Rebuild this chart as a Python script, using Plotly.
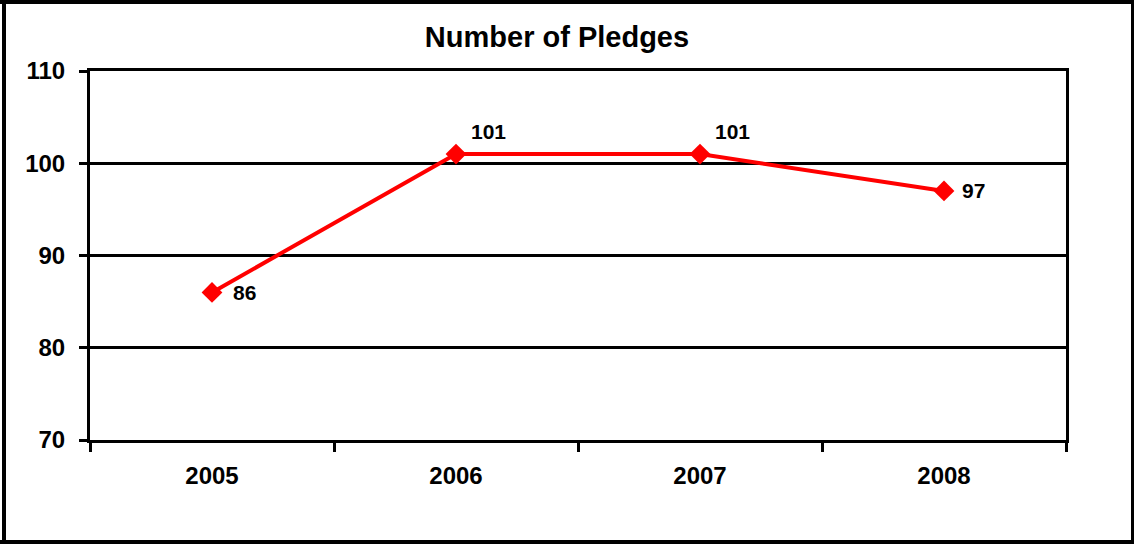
import plotly.graph_objects as go

# Pledge counts by year
years = ["2005", "2006", "2007", "2008"]
pledges = [86, 101, 101, 97]
y_ticks = [70, 80, 90, 100, 110]

FONT = "Liberation Sans, Arial, sans-serif"
RED = "#ff0000"

fig = go.Figure()
fig.add_trace(go.Scatter(
    x=years,
    y=pledges,
    mode="lines+markers",
    line=dict(color=RED, width=4),
    marker=dict(symbol="diamond", size=16, color=RED),
    hoverinfo="x+y",
    showlegend=False,
))

# Value labels beside each point (category axis: x given as category index)
label_offsets = {0: (19, 0), 1: (13, 23), 2: (13, 23), 3: (16, 0)}
for i, v in enumerate(pledges):
    dx, dy = label_offsets[i]
    fig.add_annotation(
        x=i, y=v, xref="x", yref="y", text=str(v), showarrow=False,
        xanchor="left", yanchor="middle", xshift=dx, yshift=dy,
        font=dict(family=FONT, size=21, color="black", weight="bold"),
    )

# Outer chart border
W, H = 1134, 544
L, R, T, B = 90, 68, 71, 104
pw, ph = W - L - R, H - T - B


def px_x(px):
    return (px - L) / pw


def px_y(py):
    return (H - B - py) / ph


border = [
    (px_x(4), px_y(0), px_x(4), px_y(544), 4),
    (px_x(0), px_y(2), px_x(1134), px_y(2), 4),
    (px_x(1132.5), px_y(0), px_x(1132.5), px_y(544), 3),
    (px_x(0), px_y(542), px_x(1134), px_y(542), 4),
]
for x0, y0, x1, y1, w in border:
    fig.add_shape(type="line", xref="paper", yref="paper",
                  x0=x0, y0=y0, x1=x1, y1=y1,
                  line=dict(color="black", width=w))

fig.update_layout(
    width=W, height=H,
    margin=dict(l=L, r=R, t=T, b=B, pad=0),
    paper_bgcolor="white",
    plot_bgcolor="white",
    title=dict(
        text="Number of Pledges",
        x=px_x(557), xref="paper", xanchor="center",
        y=1 - 37 / H, yref="container", yanchor="middle",
        font=dict(family=FONT, size=29, color="black", weight="bold"),
    ),
    xaxis=dict(
        type="category",
        range=[-0.5, 3.5],
        tickson="boundaries",
        ticks="outside", ticklen=9, tickwidth=3, tickcolor="black",
        showline=True, linecolor="black", linewidth=3, mirror=True,
        showgrid=False,
        tickfont=dict(family=FONT, size=24, color="black", weight="bold"),
        ticklabelstandoff=12,
    ),
    yaxis=dict(
        range=[70, 110],
        tickvals=y_ticks,
        ticks="outside", ticklen=8, tickwidth=3, tickcolor="black",
        showline=True, linecolor="black", linewidth=3, mirror=True,
        showgrid=True, gridcolor="black", gridwidth=2.5,
        zeroline=False,
        tickfont=dict(family=FONT, size=24, color="black", weight="bold"),
        ticklabelstandoff=9,
    ),
)

fig.write_html("out.html")
